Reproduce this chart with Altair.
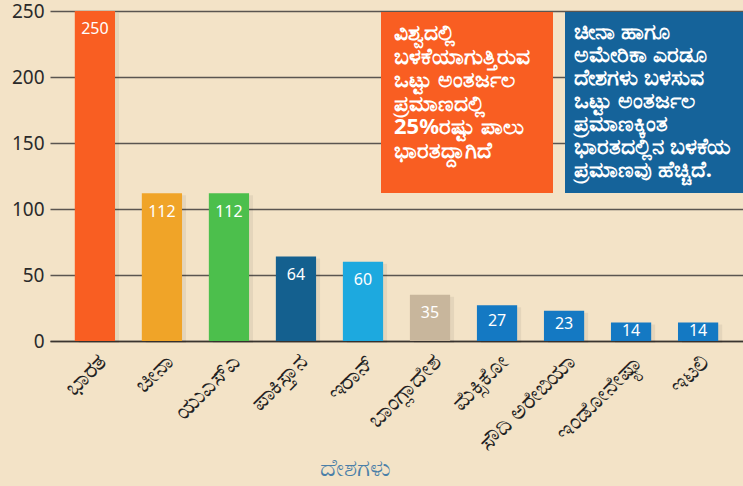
import altair as alt
import pandas as pd

countries = ["ಭಾರತ", "ಚೀನಾ", "ಯುಎಸ್ಎ", "ಪಾಕಿಸ್ತಾನ", "ಇರಾನ್", "ಬಾಂಗ್ಲಾದೇಶ",
             "ಮೆಕ್ಸಿಕೋ", "ಸೌದಿ ಅರೇಬಿಯಾ", "ಇಂಡೋನೇಷ್ಯಾ", "ಇಟಲಿ"]
values = [250, 112, 112, 64, 60, 35, 27, 23, 14, 14]
colors = ["#F95E22", "#F0A428", "#4CBF4C", "#14608F", "#1DA9DF", "#C8B69C",
          "#1479C3", "#1479C3", "#1479C3", "#1479C3"]
y_ticks = [0, 50, 100, 150, 200, 250]

note_orange = ["ವಿಶ್ವದಲ್ಲಿ", "ಬಳಕೆಯಾಗುತ್ತಿರುವ", "ಒಟ್ಟು ಅಂತರ್ಜಲ",
               "ಪ್ರಮಾಣದಲ್ಲಿ", "25%ರಷ್ಟು ಪಾಲು", "ಭಾರತದ್ದಾಗಿದೆ"]
note_blue = ["ಚೀನಾ ಹಾಗೂ", "ಅಮೇರಿಕಾ ಎರಡೂ", "ದೇಶಗಳು ಬಳಸುವ", "ಒಟ್ಟು ಅಂತರ್ಜಲ",
             "ಪ್ರಮಾಣಕ್ಕಿಂತ", "ಭಾರತದಲ್ಲಿನ ಬಳಕೆಯ", "ಪ್ರಮಾಣವು ಹೆಚ್ಚಿದೆ."]
x_title = "ದೇಶಗಳು"

df = pd.DataFrame({"country": countries, "value": values, "color": colors})

FONT = "Noto Sans"

x_enc = alt.X("country:N", sort=countries,
              scale=alt.Scale(paddingInner=0.4, paddingOuter=0.37),
              axis=alt.Axis(title=x_title, labelAngle=-45, labelFontSize=23,
                            labelColor="#222222", labelFont=FONT, labelPadding=9,
                            ticks=False, domainColor="#3a3530", domainWidth=1.5,
                            titleFont=FONT, titleFontSize=24, titleColor="#4A7FA8",
                            titleFontWeight="normal", titleY=127, titleX=305,
                            titleBaseline="middle", grid=False))
y_enc = alt.Y("value:Q", scale=alt.Scale(domain=[0, 250], nice=False),
              axis=alt.Axis(title=None, values=y_ticks, labelFontSize=19,
                            labelColor="#2a2a2a", labelFont=FONT, labelPadding=6,
                            ticks=False, domain=False, grid=True,
                            gridColor="#5a5550", gridWidth=1.5))

base = alt.Chart(df)

shadow = base.mark_bar(color="#000000", opacity=0.06, xOffset=4, yOffset=2).encode(
    x=x_enc, y=y_enc)

bars = base.mark_bar().encode(
    x=x_enc, y=y_enc, color=alt.Color("color:N", scale=None))

labels = base.transform_calculate(
    ly="max(datum.value - 14, datum.value * 0.55)"
).mark_text(color="white", fontSize=16, font=FONT, baseline="middle").encode(
    x=alt.X("country:N", sort=countries), y=alt.Y("ly:Q"), text="value:Q")

box_o = base.mark_rect(color="#F95E22").encode(
    x=alt.value(331), x2=alt.value(503), y=alt.value(1), y2=alt.value(182))
box_b = base.mark_rect(color="#15639A").encode(
    x=alt.value(515), x2=alt.value(700), y=alt.value(1), y2=alt.value(182))

txt_o = alt.Chart(pd.DataFrame({"t": [note_orange]})).mark_text(
    color="white", fontSize=22, font=FONT, fontWeight="bold", align="left",
    baseline="middle", lineHeight=23.5).encode(
    x=alt.value(344), y=alt.value(22), text="t")
txt_b = alt.Chart(pd.DataFrame({"t": [note_blue]})).mark_text(
    color="white", fontSize=22, font=FONT, fontWeight="bold", align="left",
    baseline="middle", lineHeight=23).encode(
    x=alt.value(524), y=alt.value(21), text="t")

chart = alt.layer(shadow, bars, labels, box_o, box_b, txt_o, txt_b).properties(
    width=693, height=330,
    autosize=alt.AutoSizeParams(type="none"),
    padding={"left": 50, "top": 11, "right": 0, "bottom": 145},
    background="#F3E3C7",
).configure_view(stroke=None)

chart.save("out.html", embed_options={"renderer": "svg", "actions": False})
